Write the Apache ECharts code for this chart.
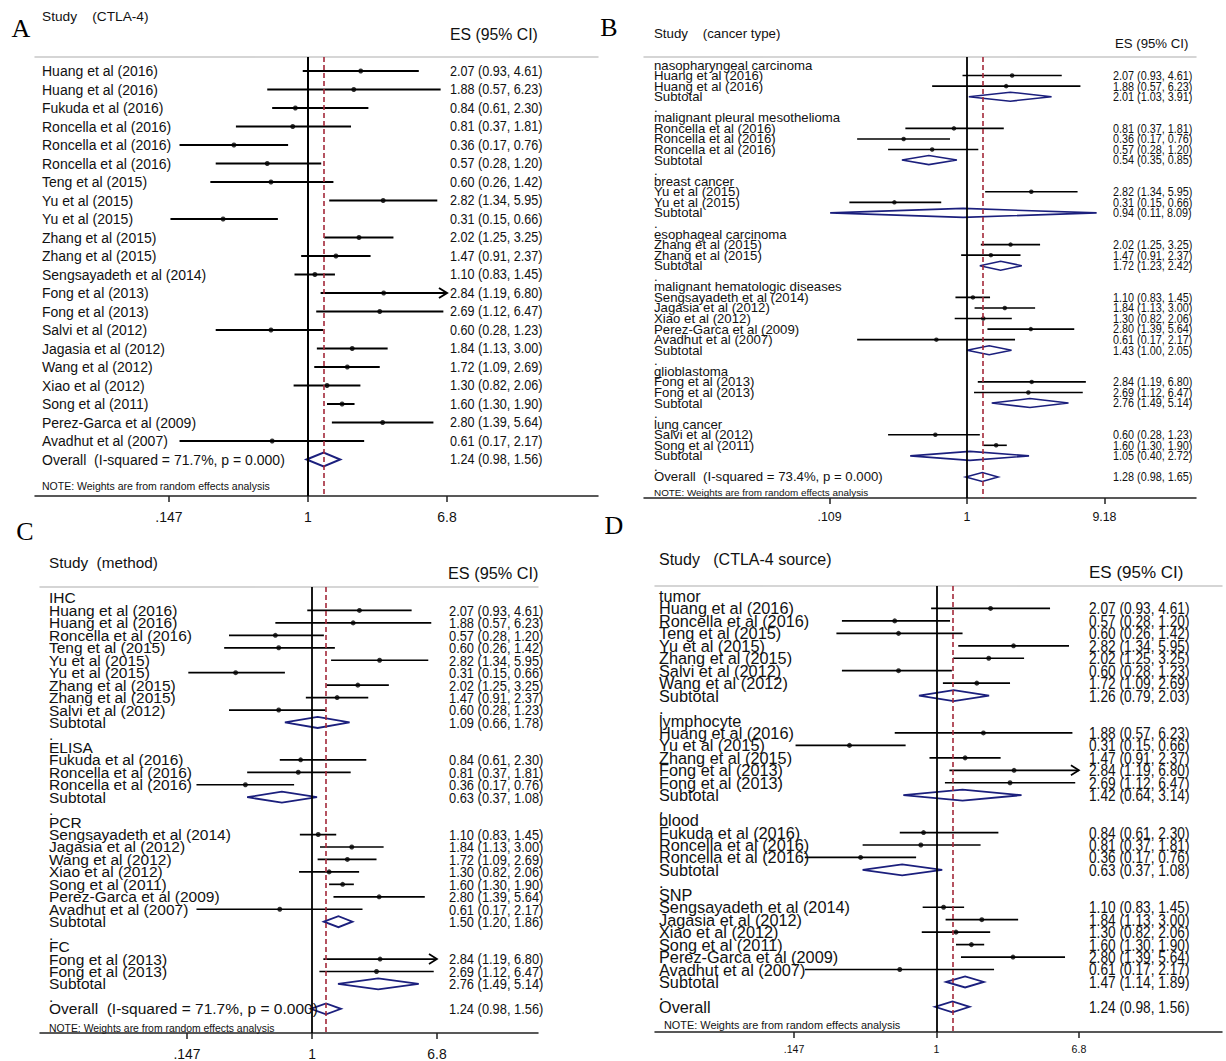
<!DOCTYPE html>
<html><head><meta charset="utf-8">
<script src="https://cdn.jsdelivr.net/npm/echarts@6/dist/echarts.min.js"></script>
<style>html,body{margin:0;padding:0;background:#fff}#c{width:1226px;height:1061px}</style>
</head><body><div id="c"></div>
<script>
// ---------- Panel A : Study (CTLA-4) ----------
const aLabels = ['Huang et al (2016)','Huang et al (2016)','Fukuda et al (2016)','Roncella et al (2016)','Roncella et al (2016)','Roncella et al (2016)','Teng et al (2015)','Yu et al (2015)','Yu et al (2015)','Zhang et al (2015)','Zhang et al (2015)','Sengsayadeth et al (2014)','Fong et al (2013)','Fong et al (2013)','Salvi et al (2012)','Jagasia et al (2012)','Wang et al (2012)','Xiao et al (2012)','Song et al (2011)','Perez-Garca et al (2009)','Avadhut et al (2007)','Overall\u00a0\u00a0(I-squared = 71.7%, p = 0.000)'];
const aES = [2.07,1.88,0.84,0.81,0.36,0.57,0.60,2.82,0.31,2.02,1.47,1.10,2.84,2.69,0.60,1.84,1.72,1.30,1.60,2.80,0.61,1.24];
const aLo = [0.93,0.57,0.61,0.37,0.17,0.28,0.26,1.34,0.15,1.25,0.91,0.83,1.19,1.12,0.28,1.13,1.09,0.82,1.30,1.39,0.17,0.98];
const aHi = [4.61,6.23,2.30,1.81,0.76,1.20,1.42,5.95,0.66,3.25,2.37,1.45,6.80,6.47,1.23,3.00,2.69,2.06,1.90,5.64,2.17,1.56];
const aTicks = [0.147, 1, 6.8];
const aTickLabels = ['.147', '1', '6.8'];

// ---------- Panel B : Study (cancer type) ----------
const bLabels = ['nasopharyngeal carcinoma','Huang et al (2016)','Huang et al (2016)','Subtotal','.',
 'malignant pleural mesothelioma','Roncella et al (2016)','Roncella et al (2016)','Roncella et al (2016)','Subtotal','.',
 'breast cancer','Yu et al (2015)','Yu et al (2015)','Subtotal','.',
 'esophageal carcinoma','Zhang et al (2015)','Zhang et al (2015)','Subtotal','.',
 'malignant hematologic diseases','Sengsayadeth et al (2014)','Jagasia et al (2012)','Xiao et al (2012)','Perez-Garca et al (2009)','Avadhut et al (2007)','Subtotal','.',
 'glioblastoma','Fong et al (2013)','Fong et al (2013)','Subtotal','.',
 'lung cancer','Salvi et al (2012)','Song et al (2011)','Subtotal','.',
 'Overall\u00a0\u00a0(I-squared = 73.4%, p = 0.000)'];
const bES = [null,2.07,1.88,2.01,null, null,0.81,0.36,0.57,0.54,null, null,2.82,0.31,0.94,null, null,2.02,1.47,1.72,null, null,1.10,1.84,1.30,2.80,0.61,1.43,null, null,2.84,2.69,2.76,null, null,0.60,1.60,1.05,null, 1.28];
const bLo = [null,0.93,0.57,1.03,null, null,0.37,0.17,0.28,0.35,null, null,1.34,0.15,0.11,null, null,1.25,0.91,1.23,null, null,0.83,1.13,0.82,1.39,0.17,1.00,null, null,1.19,1.12,1.49,null, null,0.28,1.30,0.40,null, 0.98];
const bHi = [null,4.61,6.23,3.91,null, null,1.81,0.76,1.20,0.85,null, null,5.95,0.66,8.09,null, null,3.25,2.37,2.42,null, null,1.45,3.00,2.06,5.64,2.17,2.05,null, null,6.80,6.47,5.14,null, null,1.23,1.90,2.72,null, 1.65];
const bTicks = [0.109, 1, 9.18];
const bTickLabels = ['.109', '1', '9.18'];

// ---------- Panel C : Study (method) ----------
const cLabels = ['IHC','Huang et al (2016)','Huang et al (2016)','Roncella et al (2016)','Teng et al (2015)','Yu et al (2015)','Yu et al (2015)','Zhang et al (2015)','Zhang et al (2015)','Salvi et al (2012)','Subtotal','.',
 'ELISA','Fukuda et al (2016)','Roncella et al (2016)','Roncella et al (2016)','Subtotal','.',
 'PCR','Sengsayadeth et al (2014)','Jagasia et al (2012)','Wang et al (2012)','Xiao et al (2012)','Song et al (2011)','Perez-Garca et al (2009)','Avadhut et al (2007)','Subtotal','.',
 'FC','Fong et al (2013)','Fong et al (2013)','Subtotal','.',
 'Overall\u00a0\u00a0(I-squared = 71.7%, p = 0.000)'];
const cES = [null,2.07,1.88,0.57,0.60,2.82,0.31,2.02,1.47,0.60,1.09,null, null,0.84,0.81,0.36,0.63,null, null,1.10,1.84,1.72,1.30,1.60,2.80,0.61,1.50,null, null,2.84,2.69,2.76,null, 1.24];
const cLo = [null,0.93,0.57,0.28,0.26,1.34,0.15,1.25,0.91,0.28,0.66,null, null,0.61,0.37,0.17,0.37,null, null,0.83,1.13,1.09,0.82,1.30,1.39,0.17,1.20,null, null,1.19,1.12,1.49,null, 0.98];
const cHi = [null,4.61,6.23,1.20,1.42,5.95,0.66,3.25,2.37,1.23,1.78,null, null,2.30,1.81,0.76,1.08,null, null,1.45,3.00,2.69,2.06,1.90,5.64,2.17,1.86,null, null,6.80,6.47,5.14,null, 1.56];
const cTicks = [0.147, 1, 6.8];
const cTickLabels = ['.147', '1', '6.8'];

// ---------- Panel D : Study (CTLA-4 source) ----------
const dLabels = ['tumor','Huang et al (2016)','Roncella et al (2016)','Teng et al (2015)','Yu et al (2015)','Zhang et al (2015)','Salvi et al (2012)','Wang et al (2012)','Subtotal','.',
 'lymphocyte','Huang et al (2016)','Yu et al (2015)','Zhang et al (2015)','Fong et al (2013)','Fong et al (2013)','Subtotal','.',
 'blood','Fukuda et al (2016)','Roncella et al (2016)','Roncella et al (2016)','Subtotal','.',
 'SNP','Sengsayadeth et al (2014)','Jagasia et al (2012)','Xiao et al (2012)','Song et al (2011)','Perez-Garca et al (2009)','Avadhut et al (2007)','Subtotal','.',
 'Overall'];
const dES = [null,2.07,0.57,0.60,2.82,2.02,0.60,1.72,1.26,null, null,1.88,0.31,1.47,2.84,2.69,1.42,null, null,0.84,0.81,0.36,0.63,null, null,1.10,1.84,1.30,1.60,2.80,0.61,1.47,null, 1.24];
const dLo = [null,0.93,0.28,0.26,1.34,1.25,0.28,1.09,0.79,null, null,0.57,0.15,0.91,1.19,1.12,0.64,null, null,0.61,0.37,0.17,0.37,null, null,0.83,1.13,0.82,1.30,1.39,0.17,1.14,null, 0.98];
const dHi = [null,4.61,1.20,1.42,5.95,3.25,1.23,2.69,2.03,null, null,6.23,0.66,2.37,6.80,6.47,3.14,null, null,2.30,1.81,0.76,1.08,null, null,1.45,3.00,2.06,1.90,5.64,2.17,1.89,null, 1.56];
const dTicks = [0.147, 1, 6.8];
const dTickLabels = ['.147', '1', '6.8'];

const noteText = 'NOTE: Weights are from random effects analysis';
const esHeader = 'ES (95% CI)';

// ---------- layout (pixels) ----------
const FONT = "'Liberation Sans', Arial, sans-serif";
const SERIF = "'Liberation Serif', 'Times New Roman', serif";
const NAVY = '#1b1f7d';
const RED = '#a3283a';

const panels = [
 {letter:'A', head:'Study\u00a0\u00a0\u00a0\u00a0(CTLA-4)', labels:aLabels, es:aES, lo:aLo, hi:aHi, ticks:aTicks, tickLabels:aTickLabels,
  L:{left:35,right:598,top:57,bottom:496,nullX:308,ppl:72.5,r0:71,sp:18.5,labelX:42,esX:450,labelFont:14,esFont:14.5,esScale:0.87,tickFont:14,tickY:517,
     headX:42,headY:16,headFont:13.7,esHeadX:450,esHeadY:34,esHeadFont:15.8,letterX:21,letterY:28,noteX:42,noteY:486,noteFont:10.5,
     ciW:2,dot:5,diaH:7,diaW:2,nullW:2}},
 {letter:'B', head:'Study\u00a0\u00a0\u00a0\u00a0(cancer type)', labels:bLabels, es:bES, lo:bLo, hi:bHi, ticks:bTicks, tickLabels:bTickLabels,
  L:{left:644,right:1196,top:57,bottom:498,nullX:967,ppl:62.0,r0:65,sp:10.564,labelX:654,esX:1113,labelFont:13.2,esFont:13.2,esScale:0.82,tickFont:12.4,tickY:517,
     headX:654,headY:33,headFont:13.3,esHeadX:1115,esHeadY:43,esHeadFont:13.2,letterX:609,letterY:27,noteX:654,noteY:492,noteFont:9.9,
     ciW:1.6,dot:4.5,diaH:4.5,diaW:1.6,nullW:1.8}},
 {letter:'C', head:'Study\u00a0\u00a0(method)', labels:cLabels, es:cES, lo:cLo, hi:cHi, ticks:cTicks, tickLabels:cTickLabels,
  L:{left:40,right:538,top:587,bottom:1034,nullX:312,ppl:65.2,r0:598,sp:12.48,labelX:49,esX:449,labelFont:15.5,esFont:15.5,esScale:0.83,tickFont:13.9,tickY:1055,
     headX:49,headY:562,headFont:15.3,esHeadX:448,esHeadY:573,esHeadFont:16.3,letterX:25,letterY:531,noteX:49,noteY:1028,noteFont:10.4,
     ciW:1.7,dot:5,diaH:5.5,diaW:1.8,nullW:1.8}},
 {letter:'D', head:'Study\u00a0\u00a0\u00a0(CTLA-4 source)', labels:dLabels, es:dES, lo:dLo, hi:dHi, ticks:dTicks, tickLabels:dTickLabels,
  L:{left:655,right:1222,top:586,bottom:1032,nullX:936.5,ppl:74.3,r0:596,sp:12.45,labelX:659,esX:1089,labelFont:16.3,esFont:16.3,esScale:0.84,tickFont:10.6,tickY:1049,
     headX:659,headY:559,headFont:16,esHeadX:1089,esHeadY:572,esHeadFont:17,letterX:614,letterY:525,noteX:664,noteY:1025,noteFont:10.9,
     ciW:1.7,dot:5,diaH:5.5,diaW:1.8,nullW:1.8}}
];

const fmt = v => v.toFixed(2);
const option = {animation:false, backgroundColor:'#ffffff', grid:[], xAxis:[], yAxis:[], series:[], graphic:[]};

panels.forEach((p, k) => {
  const L = p.L;
  option.grid.push({left:L.left, top:L.top, width:L.right - L.left, height:L.bottom - L.top, containLabel:false});
  const xmin = Math.exp((L.left - L.nullX) / L.ppl);
  const xmax = Math.exp((L.right - L.nullX) / L.ppl);
  const ymin = (L.top - L.r0) / L.sp;
  const ymax = (L.bottom - L.r0) / L.sp;
  const tickFmt = v => {
    const j = p.ticks.findIndex(t => Math.abs(Math.log(t) - Math.log(v)) < 1e-4);
    return j >= 0 ? p.tickLabels[j] : '';
  };
  option.xAxis.push({gridIndex:k, type:'log', logBase:10, min:xmin, max:xmax, position:'bottom',
    axisLine:{show:true, onZero:false, lineStyle:{color:'#222', width:1.5}},
    axisTick:{show:true, customValues:p.ticks, length:6, lineStyle:{color:'#222', width:1.5}},
    axisLabel:{show:true, customValues:p.ticks, formatter:tickFmt, margin:L.tickY - L.bottom - L.tickFont/2,
      fontSize:L.tickFont, color:'#111', fontFamily:FONT, showMinLabel:true, showMaxLabel:true},
    splitLine:{show:false}, minorTick:{show:false}, minorSplitLine:{show:false}});
  option.xAxis.push({gridIndex:k, type:'log', logBase:10, min:xmin, max:xmax, position:'top',
    axisLine:{show:true, onZero:false, lineStyle:{color:'#c8c8c8', width:1.5}},
    axisTick:{show:false}, axisLabel:{show:false}, splitLine:{show:false}});
  option.yAxis.push({gridIndex:k, type:'value', inverse:true, min:ymin, max:ymax, position:'left',
    axisLine:{show:false, onZero:false}, axisTick:{show:false}, splitLine:{show:false}, axisLabel:{show:false}});

  const rows = p.labels.map((_, i) => i);
  const esRows = rows.filter(i => p.es[i] != null);
  const isDia = i => /^(Subtotal|Overall)/.test(p.labels[i]);
  const arrowAt = p.ticks[p.ticks.length - 1];
  const ciData = [], dotData = [], diaData = [], esData = [];
  const labelData = rows.map(i => [1, i]);
  esRows.forEach(i => {
    esData.push([p.es[i], i, p.lo[i], p.hi[i]]);
    if (isDia(i)) diaData.push([p.lo[i], p.es[i], p.hi[i], i]);
    else {
      ciData.push([p.lo[i], p.hi[i], i, p.hi[i] >= arrowAt ? 1 : 0]);
      dotData.push([p.es[i], i]);
    }
  });
  const overall = p.es[p.es.length - 1];
  const xi = 2 * k, yi = k;

  // study / group labels, one per row, positioned through the y scale
  option.series.push({type:'custom', coordinateSystem:'cartesian2d', xAxisIndex:xi, yAxisIndex:yi, silent:true, z:5, clip:false,
    data:labelData, encode:{x:0, y:1},
    renderItem:(params, api) => {
      const i = api.value(1);
      const yy = api.coord([1, i])[1];
      return {type:'text', x:L.labelX, y:yy,
        style:{text:p.labels[i], fontFamily:FONT, fontSize:L.labelFont, fill:'#111', align:'left', verticalAlign:'middle'}};
    }});
  // CI lines (with arrow when the interval reaches the axis end)
  option.series.push({type:'custom', coordinateSystem:'cartesian2d', xAxisIndex:xi, yAxisIndex:yi, silent:true, z:2,
    data:ciData, encode:{x:[0,1], y:2},
    renderItem:(params, api) => {
      const a = api.coord([api.value(0), api.value(2)]);
      const b = api.coord([api.value(1), api.value(2)]);
      const ch = [{type:'line', shape:{x1:a[0], y1:a[1], x2:b[0], y2:b[1]}, style:{stroke:'#000', lineWidth:L.ciW}}];
      if (api.value(3)) ch.push({type:'polyline', shape:{points:[[b[0]-8, b[1]-5],[b[0], b[1]],[b[0]-8, b[1]+5]]},
        style:{stroke:'#000', lineWidth:L.ciW, fill:'rgba(0,0,0,0)'}});
      return {type:'group', children:ch};
    }});
  // pooled diamonds
  option.series.push({type:'custom', coordinateSystem:'cartesian2d', xAxisIndex:xi, yAxisIndex:yi, silent:true, z:3,
    data:diaData, encode:{x:[0,1,2], y:3},
    renderItem:(params, api) => {
      const y = api.value(3);
      const l = api.coord([api.value(0), y]), m = api.coord([api.value(1), y]), r = api.coord([api.value(2), y]);
      return {type:'polygon', shape:{points:[[l[0], l[1]],[m[0], m[1]-L.diaH],[r[0], r[1]],[m[0], m[1]+L.diaH]]},
        style:{stroke:NAVY, lineWidth:L.diaW, fill:'rgba(0,0,0,0)'}};
    }});
  // ES (95% CI) text column
  option.series.push({type:'custom', coordinateSystem:'cartesian2d', xAxisIndex:xi, yAxisIndex:yi, silent:true, z:5, clip:false,
    data:esData, encode:{x:0, y:1},
    renderItem:(params, api) => {
      const yy = api.coord([1, api.value(1)])[1];
      const txt = fmt(api.value(0)) + ' (' + fmt(api.value(2)) + ', ' + fmt(api.value(3)) + ')';
      return {type:'text', x:L.esX, y:yy, scaleX:L.esScale, scaleY:1,
        style:{text:txt, fontFamily:FONT, fontSize:L.esFont, fill:'#111', align:'left', verticalAlign:'middle'}};
    }});
  // point estimates + reference lines (null = 1, overall estimate)
  option.series.push({type:'scatter', xAxisIndex:xi, yAxisIndex:yi, silent:true, z:4,
    data:dotData, symbol:'circle', symbolSize:L.dot, itemStyle:{color:'#000'},
    markLine:{silent:true, symbol:['none','none'], label:{show:false}, animation:false,
      data:[{xAxis:1, lineStyle:{color:'#000', width:L.nullW, type:'solid'}},
            {xAxis:overall, lineStyle:{color:RED, width:1.6, type:[5,3]}}]}});

  option.graphic.push(
    {type:'text', x:L.letterX, y:L.letterY, style:{text:p.letter, fontFamily:SERIF, fontSize:26, fill:'#000', align:'center', verticalAlign:'middle'}},
    {type:'text', x:L.headX, y:L.headY, style:{text:p.head, fontFamily:FONT, fontSize:L.headFont, fill:'#111', align:'left', verticalAlign:'middle'}},
    {type:'text', x:L.esHeadX, y:L.esHeadY, style:{text:esHeader, fontFamily:FONT, fontSize:L.esHeadFont, fill:'#111', align:'left', verticalAlign:'middle'}},
    {type:'text', x:L.noteX, y:L.noteY, style:{text:noteText, fontFamily:FONT, fontSize:L.noteFont, fill:'#111', align:'left', verticalAlign:'middle'}}
  );
});

const chart = echarts.init(document.getElementById('c'), null, {renderer:'svg', width:1226, height:1061});
chart.setOption(option);
</script>
</body></html>
